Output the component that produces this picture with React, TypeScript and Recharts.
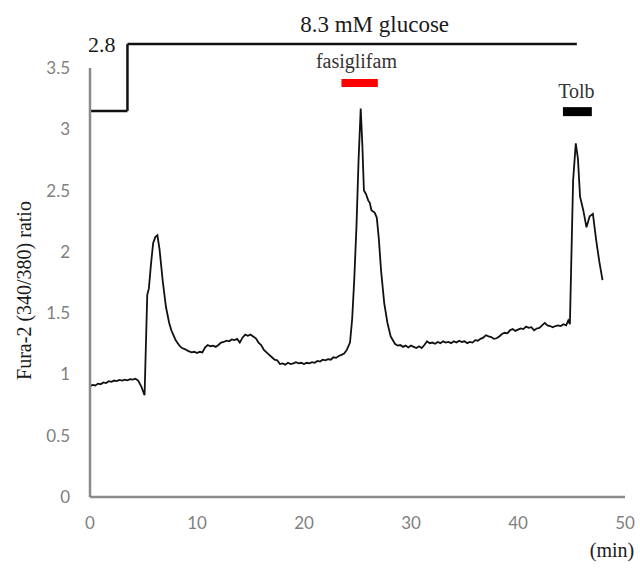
import React from "react";
import { LineChart, Line, XAxis, YAxis, ReferenceLine, ReferenceDot } from "recharts";

// ---- trace ----
const timeMin = [
  0, 0.25, 0.5, 0.75, 1, 1.25, 1.5, 1.75, 2, 2.25, 2.5, 2.75, 3, 3.25, 3.5, 3.75, 4, 4.25, 4.5, 4.8,
  5.1, 5.35, 5.5, 5.7, 5.9, 6.1, 6.3, 6.5, 6.8, 7.1, 7.4, 7.6, 7.8, 8.0, 8.2, 8.4, 8.6, 8.9, 9.2, 9.5,
  9.75, 10, 10.25, 10.5, 10.75, 11, 11.25, 11.5, 11.75, 12, 12.25, 12.5, 12.75, 13, 13.25, 13.5, 13.75, 14, 14.25, 14.5,
  14.75, 15, 15.25, 15.5, 15.75, 16, 16.25, 16.5, 16.75, 17, 17.25, 17.5, 17.75, 18, 18.25, 18.5, 18.75, 19, 19.25, 19.5,
  19.75, 20, 20.25, 20.5, 20.75, 21, 21.25, 21.5, 21.75, 22, 22.25, 22.5, 22.75, 23, 23.25, 23.5, 23.75, 24, 24.3, 24.5,
  24.7, 24.9, 25.1, 25.3, 25.45, 25.6, 25.8, 26.0, 26.15, 26.3, 26.6, 26.8, 27.0, 27.2, 27.5, 27.8, 28.1, 28.5, 28.75, 29,
  29.25, 29.5, 29.75, 30, 30.25, 30.5, 30.75, 31, 31.25, 31.5, 31.75, 32, 32.25, 32.5, 32.75, 33, 33.25, 33.5, 33.75, 34,
  34.25, 34.5, 34.75, 35, 35.25, 35.5, 35.75, 36, 36.25, 36.5, 36.75, 37, 37.25, 37.5, 37.75, 38, 38.25, 38.5, 38.75, 39,
  39.25, 39.5, 39.75, 40, 40.25, 40.5, 40.75, 41, 41.25, 41.5, 41.75, 42, 42.25, 42.5, 42.75, 43, 43.25, 43.5, 43.75, 44,
  44.25, 44.5, 44.7, 44.85, 45.0, 45.15, 45.4, 45.6, 45.8, 46.1, 46.4, 46.7, 47.0, 47.3, 47.6, 47.9,
];
const fura2Ratio = [
  0.905, 0.915, 0.91, 0.925, 0.92, 0.935, 0.93, 0.945, 0.94, 0.95, 0.945, 0.955, 0.95, 0.958, 0.952, 0.962, 0.958, 0.965, 0.95, 0.9,
  0.83, 1.65, 1.7, 1.9, 2.07, 2.12, 2.135, 2.02, 1.76, 1.55, 1.42, 1.36, 1.32, 1.28, 1.255, 1.23, 1.215, 1.205, 1.19, 1.18,
  1.185, 1.175, 1.185, 1.18, 1.22, 1.24, 1.23, 1.235, 1.225, 1.24, 1.26, 1.265, 1.275, 1.27, 1.285, 1.28, 1.29, 1.26, 1.3, 1.325,
  1.315, 1.325, 1.31, 1.295, 1.26, 1.24, 1.2, 1.18, 1.16, 1.14, 1.12, 1.115, 1.085, 1.09, 1.08, 1.095, 1.085, 1.09, 1.1, 1.09,
  1.095, 1.085, 1.095, 1.09, 1.1, 1.095, 1.11, 1.105, 1.12, 1.115, 1.125, 1.12, 1.14, 1.135, 1.15, 1.16, 1.17, 1.2, 1.26, 1.45,
  1.78, 2.2, 2.75, 3.17, 2.88, 2.5, 2.47, 2.42, 2.4, 2.34, 2.32, 2.28, 2.1, 1.85, 1.58, 1.42, 1.31, 1.25, 1.235, 1.24,
  1.225, 1.235, 1.22, 1.235, 1.225, 1.215, 1.23, 1.215, 1.24, 1.27, 1.255, 1.26, 1.25, 1.265, 1.255, 1.27, 1.26, 1.265, 1.255, 1.27,
  1.26, 1.275, 1.265, 1.27, 1.255, 1.265, 1.26, 1.28, 1.275, 1.29, 1.3, 1.32, 1.31, 1.305, 1.29, 1.295, 1.31, 1.33, 1.34, 1.335,
  1.36, 1.37, 1.355, 1.365, 1.375, 1.37, 1.39, 1.38, 1.385, 1.36, 1.375, 1.38, 1.4, 1.42, 1.4, 1.395, 1.385, 1.395, 1.4, 1.395,
  1.41, 1.4, 1.44, 1.41, 2.0, 2.58, 2.885, 2.76, 2.45, 2.34, 2.2, 2.29, 2.31, 2.1, 1.92, 1.77,
];

const xTicks = [0, 10, 20, 30, 40, 50];
const yTicks = [0, 0.5, 1, 1.5, 2, 2.5, 3, 3.5];

// ---- treatment bars above the trace (drawn in data units) ----
const glucoseTimes = [0, 3.5, 45.5]; // 2.8 mM until 3.5 min, then 8.3 mM
const glucoseLevels = [3.15, 3.695];
const fasiglifamRange = [23.5, 26.9];
const fasiglifamLevel = 3.377;
const tolbRange = [44.2, 46.9];
const tolbLevel = 3.144;

// label anchor points (x = time, y = ratio units), text baseline
const lowGlucoseLabel = { x: 1.1, y: 3.63, text: "2.8" };
const highGlucoseLabel = { x: 26.6, y: 3.793, text: "8.3 mM glucose" };
const fasiglifamLabel = { x: 24.9, y: 3.5, text: "fasiglifam" };
const tolbLabel = { x: 45.46, y: 3.254, text: "Tolb" };

const data = timeMin.map((t, i) => ({ t, ratio: fura2Ratio[i] }));

const SERIF = '"Liberation Serif", "Times New Roman", serif';
const SANS = 'Lato, "Open Sans", sans-serif';
const AXIS_GREY = "#8a8a8a";

function AnnotText(props: any) {
  const vb = props.viewBox || { x: 0, y: 0, width: 0, height: 0 };
  const cx = vb.x + (vb.width || 0) / 2;
  const cy = vb.y + (vb.height || 0) / 2;
  return (
    <text x={cx} y={cy} textAnchor="middle" style={{ fontFamily: SERIF }} fontSize={props.size} fill={props.color || "#1a1a1a"}>
      {props.text}
    </text>
  );
}

function YTitle(props: any) {
  const vb = props.viewBox || { x: 0, y: 0, width: 0, height: 0 };
  const x = vb.x + 31;
  const y = vb.y + vb.height / 2 + 8;
  return (
    <text x={x} y={y} transform={`rotate(-90, ${x}, ${y})`} textAnchor="middle" style={{ fontFamily: SERIF }} fontSize={20} fill="#1a1a1a">
      Fura-2 (340/380) ratio
    </text>
  );
}

function XUnit(props: any) {
  const vb = props.viewBox || { x: 0, y: 0, width: 0, height: 0 };
  return (
    <text x={vb.x + vb.width - 13} y={vb.y + 60} textAnchor="middle" style={{ fontFamily: SERIF }} fontSize={20} fill="#1a1a1a">
      (min)
    </text>
  );
}

export default function App() {
  const tickStyle = { fontSize: 17, fill: "#7f7f7f", fontFamily: SANS };

  return (
    <div style={{ position: "absolute", left: 0, top: 0, background: "#fff" }}>
      <LineChart width={640} height={569} data={data} margin={{ top: 68, right: 15, bottom: 0, left: 0 }}>
        <XAxis
          dataKey="t"
          type="number"
          domain={[0, 50]}
          ticks={xTicks}
          tick={tickStyle}
          tickLine={false}
          tickSize={0}
          tickMargin={20}
          height={72}
          axisLine={{ stroke: AXIS_GREY, strokeWidth: 2.5 }}
          label={<XUnit />}
        />
        <YAxis
          type="number"
          domain={[0, 3.5]}
          ticks={yTicks}
          tick={tickStyle}
          tickLine={false}
          tickSize={0}
          tickMargin={20}
          width={90}
          axisLine={{ stroke: AXIS_GREY, strokeWidth: 2.5 }}
          label={<YTitle />}
        />

        {/* glucose step */}
        <ReferenceLine
          segment={[{ x: glucoseTimes[0], y: glucoseLevels[0] }, { x: glucoseTimes[1], y: glucoseLevels[0] }]}
          stroke="#111"
          strokeWidth={2.5}
          ifOverflow="visible"
        />
        <ReferenceLine
          segment={[{ x: glucoseTimes[1], y: glucoseLevels[0] }, { x: glucoseTimes[1], y: glucoseLevels[1] }]}
          stroke="#111"
          strokeWidth={2.5}
          ifOverflow="visible"
        />
        <ReferenceLine
          segment={[{ x: glucoseTimes[1], y: glucoseLevels[1] }, { x: glucoseTimes[2], y: glucoseLevels[1] }]}
          stroke="#111"
          strokeWidth={2.5}
          ifOverflow="visible"
        />

        {/* drug application bars */}
        <ReferenceLine
          segment={[{ x: fasiglifamRange[0], y: fasiglifamLevel }, { x: fasiglifamRange[1], y: fasiglifamLevel }]}
          stroke="#ff0000"
          strokeWidth={8}
          ifOverflow="visible"
        />
        <ReferenceLine
          segment={[{ x: tolbRange[0], y: tolbLevel }, { x: tolbRange[1], y: tolbLevel }]}
          stroke="#000"
          strokeWidth={9}
          ifOverflow="visible"
        />

        {/* annotation texts */}
        <ReferenceDot x={lowGlucoseLabel.x} y={lowGlucoseLabel.y} r={0} fill="none" stroke="none" ifOverflow="visible"
          label={<AnnotText text={lowGlucoseLabel.text} size={22} />} />
        <ReferenceDot x={highGlucoseLabel.x} y={highGlucoseLabel.y} r={0} fill="none" stroke="none" ifOverflow="visible"
          label={<AnnotText text={highGlucoseLabel.text} size={23} />} />
        <ReferenceDot x={fasiglifamLabel.x} y={fasiglifamLabel.y} r={0} fill="none" stroke="none" ifOverflow="visible"
          label={<AnnotText text={fasiglifamLabel.text} size={20} color="#333" />} />
        <ReferenceDot x={tolbLabel.x} y={tolbLabel.y} r={0} fill="none" stroke="none" ifOverflow="visible"
          label={<AnnotText text={tolbLabel.text} size={20} color="#333" />} />

        <Line
          dataKey="ratio"
          type="linear"
          stroke="#111"
          strokeWidth={1.8}
          dot={false}
          isAnimationActive={false}
        />
      </LineChart>
    </div>
  );
}
